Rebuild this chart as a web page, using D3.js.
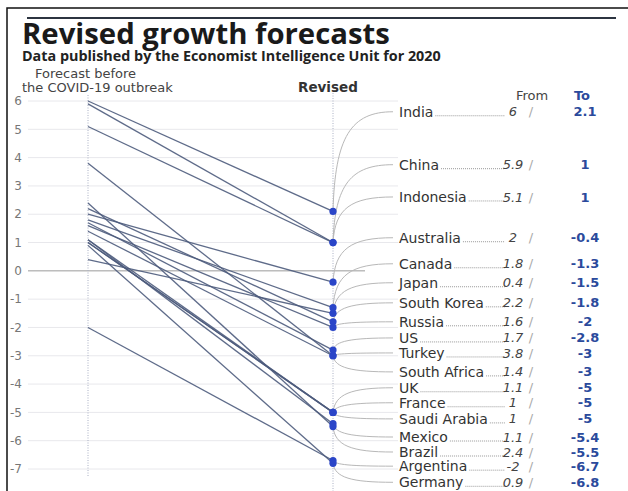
<!DOCTYPE html>
<html>
<head>
<meta charset="utf-8">
<script src="https://cdn.jsdelivr.net/npm/d3@7"></script>
<style>
  body { margin: 0; background: #fff; }
  svg { display: block; font-family: "DejaVu Sans", sans-serif; }
</style>
</head>
<body>
<svg id="chart" width="628" height="491"></svg>
<script>
// data
const countries = ["India","China","Indonesia","Australia","Canada","Japan","South Korea","Russia","US","Turkey",
  "South Africa","UK","France","Saudi Arabia","Mexico","Brazil","Argentina","Germany"]
const fromVals = [6,5.9,5.1,2,1.8,0.4,2.2,1.6,1.7,3.8,1.4,1.1,1,1,1.1,2.4,-2,0.9]
const toVals = [2.1,1,1,-0.4,-1.3,-1.5,-1.8,-2,-2.8,-3,-3,-5,-5,-5,-5.4,-5.5,-6.7,-6.8]
const yTicks = [6,5,4,3,2,1,0,-1,-2,-3,-4,-5,-6,-7]
// where each label sits, in forecast units (layout only)
const labelAt = [5.62,3.75,2.61,1.17,0.25,-0.42,-1.13,-1.8,-2.37,-2.9,-3.57,-4.13,-4.66,-5.23,-5.87,-6.4,-6.9,-7.47]

const svg = d3.select("#chart")
const y = d3.scaleLinear().domain([6,-7]).range([101,469])
const xBefore = 88, xRev = 333, xLabel = 399

// shrink/grow a text so it spans w pixels
function fit(sel,w){
  let fs = +sel.attr("font-size")
  let len = sel.node().getComputedTextLength()
  sel.attr("font-size",fs*w/len)
}

// frame
svg.append("path").attr("d","M7,491 V8 H628").attr("fill","none").attr("stroke","#111").attr("stroke-width",1.5)
svg.append("line").attr("x1",27).attr("x2",616).attr("y1",18).attr("y2",18)
  .attr("stroke","#2c3440").attr("stroke-width",2)

// titles
svg.append("text").attr("x",22).attr("y",44).text("Revised growth forecasts")
  .attr("font-family","Open Sans").attr("font-size",28).attr("font-weight",700).attr("fill","#1a1a1a")
  .call(fit,368)
svg.append("text").attr("x",22).attr("y",61).text("Data published by the Economist Intelligence Unit for 2020")
  .attr("font-family","Open Sans").attr("font-size",14).attr("font-weight",700).attr("fill","#222")
  .call(fit,419)
svg.append("text").attr("x",35).attr("y",78).text("Forecast before").attr("font-size",13).attr("fill","#444")
svg.append("text").attr("x",22).attr("y",92).text("the COVID-19 outbreak").attr("font-size",13).attr("fill","#444")
svg.append("text").attr("x",298).attr("y",92).text("Revised").attr("font-size",13.5).attr("font-weight",700).attr("fill","#333")
svg.append("text").attr("x",532).attr("y",100).attr("text-anchor","middle").text("From").attr("font-size",13).attr("fill","#444")
svg.append("text").attr("x",582).attr("y",100).attr("text-anchor","middle").text("To").attr("font-size",13)
  .attr("font-weight",700).attr("fill","#2b4a9c")

// grid + ticks
const grid = svg.append("g")
grid.selectAll("line").data(yTicks).join("line")
  .attr("x1",28).attr("x2",d=>d==0?365:398)
  .attr("y1",d=>y(d)).attr("y2",d=>y(d))
  .attr("stroke",d=>d==0?"#9a9a9a":"#e8e8ec").attr("stroke-width",1)
grid.selectAll("text").data(yTicks).join("text")
  .attr("x",22).attr("y",d=>y(d)).attr("dy","0.35em").attr("text-anchor","end")
  .text(d=>d).attr("font-size",12).attr("fill","#777")

// dotted verticals
svg.append("line").attr("x1",xBefore).attr("x2",xBefore).attr("y1",95).attr("y2",476)
  .attr("stroke","#aab0c4").attr("stroke-dasharray","1,1.5")
svg.append("line").attr("x1",xRev).attr("x2",xRev).attr("y1",93).attr("y2",491)
  .attr("stroke","#aab0c4").attr("stroke-dasharray","1,1.5")

const rows = countries.map((c,i)=>({name:c,from:fromVals[i],to:toVals[i],lab:labelAt[i]}))

// connectors to labels
svg.append("g").selectAll("path").data(rows).join("path")
  .attr("d",d=>{
    let y0=y(d.to), y1=y(d.lab)
    return `M${xRev},${y0} C${xRev+2},${y0+(y1-y0)*0.75} ${xRev+18},${y1} ${xLabel-6},${y1}`
  })
  .attr("fill","none").attr("stroke","#b8b8b8").attr("stroke-width",1)

// slope lines
svg.append("g").selectAll("line").data(rows).join("line")
  .attr("x1",xBefore).attr("y1",d=>y(d.from))
  .attr("x2",xRev).attr("y2",d=>y(d.to))
  .attr("stroke","#4d5b7c").attr("stroke-width",1.3).attr("stroke-opacity",0.9)

svg.append("g").selectAll("circle").data(rows).join("circle")
  .attr("cx",xRev).attr("cy",d=>y(d.to)).attr("r",3.6).attr("fill","#2a45c8")

// labels
const lab = svg.append("g").selectAll("g").data(rows).join("g")
  .attr("transform",d=>`translate(0,${y(d.lab)})`)
lab.append("text").attr("x",xLabel).attr("dy","0.35em").text(d=>d.name)
  .attr("font-size",14).attr("fill","#333")
  .each(function(d){ d.w=this.getComputedTextLength() })
lab.append("line").attr("x1",d=>xLabel+d.w+2).attr("x2",505).attr("y1",4).attr("y2",4)
  .attr("stroke","#999").attr("stroke-dasharray","1,1")
lab.append("text").attr("x",513).attr("dy","0.35em").attr("text-anchor","middle")
  .text(d=>d.from).attr("font-size",13).attr("font-style","italic").attr("fill","#444")
lab.append("text").attr("x",531).attr("dy","0.35em").attr("text-anchor","middle")
  .text("/").attr("font-size",13).attr("fill","#aaa")
lab.append("text").attr("x",585).attr("dy","0.35em").attr("text-anchor","middle")
  .text(d=>d.to).attr("font-size",13).attr("font-weight",700).attr("fill","#2b4a9c")
</script>
</body>
</html>
